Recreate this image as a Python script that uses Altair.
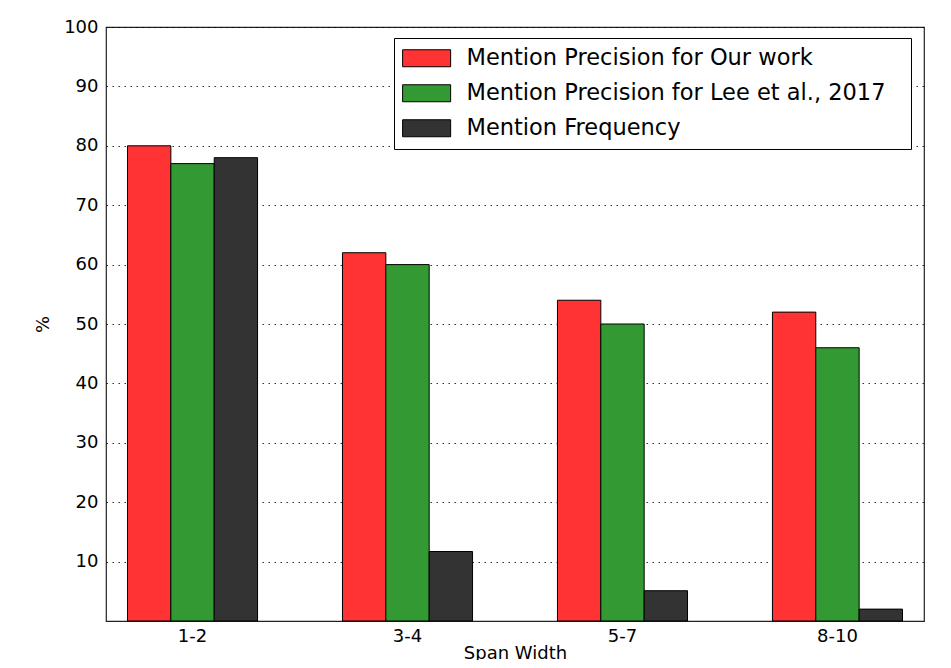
import altair as alt
import pandas as pd

categories = ["1-2", "3-4", "5-7", "8-10"]
series = [
    "Mention Precision for Our work",
    "Mention Precision for Lee et al., 2017",
    "Mention Frequency",
]
ours = [80, 62, 54, 52]
lee = [77, 60, 50, 46]
freq = [78, 11.7, 5.1, 2.0]
colors = ["#ff3333", "#339933", "#333333"]
y_ticks = [10, 20, 30, 40, 50, 60, 70, 80, 90, 100]

rows = []
for vals, s in zip([ours, lee, freq], series):
    for c, v in zip(categories, vals):
        rows.append({"span": c, "series": s, "value": v})
df = pd.DataFrame(rows)

FONT = "DejaVu Sans"

chart = (
    alt.Chart(df)
    .mark_bar(stroke="black", strokeWidth=1)
    .encode(
        x=alt.X(
            "span:N",
            sort=categories,
            title="Span Width",
            scale=alt.Scale(paddingInner=0.395, paddingOuter=0.1),
            axis=alt.Axis(
                labelAngle=0,
                ticks=False,
                domain=False,
                labelFontSize=18,
                labelPadding=6,
                titleFontSize=18,
                titleFontWeight="normal",
                titlePadding=-1,
                labelColor="black",
                titleColor="black",
            ),
        ),
        xOffset=alt.XOffset("series:N", sort=series, scale=alt.Scale(paddingInner=0, paddingOuter=0)),
        y=alt.Y(
            "value:Q",
            title="%",
            scale=alt.Scale(domain=[0, 100], nice=False),
            axis=alt.Axis(
                values=y_ticks,
                ticks=False,
                domain=False,
                grid=True,
                gridDash=[1.5, 4.5],
                gridColor="black",
                gridOpacity=0.8,
                gridWidth=1,
                labelFontSize=18,
                labelPadding=8,
                titleFontSize=18,
                titleFontWeight="normal",
                titlePadding=11,
                labelColor="black",
                titleColor="black",
            ),
        ),
        color=alt.Color(
            "series:N",
            sort=series,
            scale=alt.Scale(domain=series, range=colors),
            legend=alt.Legend(
                title=None,
                orient="none",
                legendX=288,
                legendY=11,
                symbolType="M-1.37,-1L4.28,-1L4.28,1L-1.37,1Z",
                symbolSize=289,
                symbolStrokeColor="black",
                symbolStrokeWidth=1,
                symbolOpacity=1,
                labelFontSize=22.5,
                labelOffset=41,
                labelLimit=700,
                labelColor="black",
                labelExpr="datum.label + '\u2800'",
                rowPadding=12,
                padding=9,
                strokeColor="black",
                fillColor="white",
                cornerRadius=0,
            ),
        ),
    )
    .properties(
        width=818,
        height=594,
        autosize=alt.AutoSizeParams(type="none"),
        padding={"left": 98, "top": 19, "right": 10, "bottom": 39},
    )
    .configure(font=FONT)
    .configure_view(stroke="#222222", strokeWidth=1.2)
)

chart.save("out.html", embed_options={"renderer": "svg", "actions": False})
